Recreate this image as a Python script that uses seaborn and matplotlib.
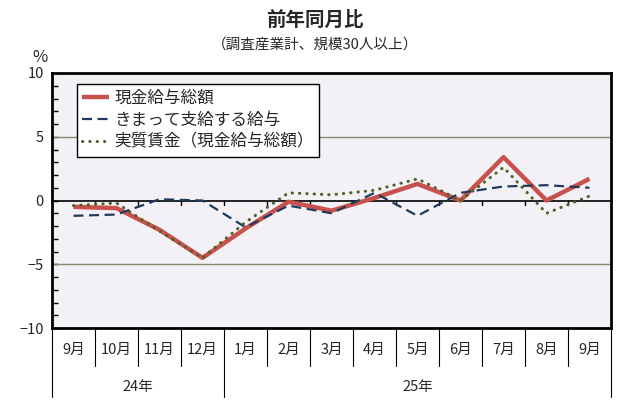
import matplotlib
matplotlib.use("Agg")
import matplotlib.pyplot as plt
import matplotlib.transforms as mtransforms
from matplotlib.ticker import MultipleLocator
import seaborn as sns
import pandas as pd

months = ["9月", "10月", "11月", "12月", "1月", "2月", "3月", "4月", "5月", "6月", "7月", "8月", "9月"]
years = ["24年", "25年"]
year_spans = [(0, 4), (4, 13)]
series_names = ["現金給与総額", "きまって支給する給与", "実質賃金（現金給与総額）"]
cash_total = [-0.5, -0.6, -2.3, -4.5, -2.2, -0.1, -0.8, 0.2, 1.3, 0.0, 3.4, 0.0, 1.7]
regular_pay = [-1.2, -1.1, 0.1, 0.0, -2.1, -0.4, -1.0, 0.6, -1.2, 0.6, 1.1, 1.2, 1.0]
real_wage = [-0.4, -0.2, -2.4, -4.5, -1.7, 0.6, 0.45, 0.8, 1.7, 0.0, 2.6, -1.0, 0.35]

sns.set_theme(style="white")
plt.rcParams["font.family"] = ["Noto Sans CJK JP", "DejaVu Sans"]
plt.rcParams["axes.unicode_minus"] = True

fig = plt.figure(figsize=(6.3, 4.0), dpi=100)
ax = fig.add_axes([52 / 630, 1 - 328 / 400, 559 / 630, 255 / 400])
ax.set_facecolor("#f3f1f5")

idx = list(range(len(months)))
df = pd.DataFrame({
    "idx": idx * 3,
    "value": cash_total + regular_pay + real_wage,
    "series": [series_names[0]] * 13 + [series_names[1]] * 13 + [series_names[2]] * 13,
})

# grid lines
for yv in (5, -5):
    ax.axhline(yv, color="#7f8c6e", lw=1.0, zorder=1)
ax.axhline(0, color="black", lw=1.2, zorder=2)

styles = {
    series_names[0]: dict(color="#c8504d", lw=3.2, ls="-"),
    series_names[1]: dict(color="#1f3a5c", lw=1.6, ls=(0, (4.5, 2.5))),
    series_names[2]: dict(color="#4f6228", lw=2.2, ls=(0, (0.1, 2.3))),
}
for name in series_names:
    st = styles[name]
    sns.lineplot(data=df[df["series"] == name], x="idx", y="value", ax=ax,
                 color=st["color"], linewidth=st["lw"], linestyle=st["ls"],
                 label=name, zorder=3, solid_capstyle="butt",
                 dash_capstyle="round" if name == series_names[2] else "butt")

ax.set_xlim(-0.5, 12.5)
ax.set_ylim(-10, 10)
ax.set_xlabel("")
ax.set_ylabel("")
ax.set_xticks([])
ax.yaxis.set_major_locator(MultipleLocator(5))
ax.yaxis.set_minor_locator(MultipleLocator(1))
ax.tick_params(axis="y", which="both", direction="in", length=4, width=1, color="black",
               left=True, labelsize=10.5, pad=6)
for s in ax.spines.values():
    s.set_color("black")
    s.set_linewidth(2)

# small ticks on zero line at month boundaries
for b in range(1, 13):
    ax.plot([b - 0.5, b - 0.5], [0, -0.35], color="black", lw=1, zorder=2)

# category label table
trans = mtransforms.blended_transform_factory(ax.transData, ax.transAxes)
for i, m in enumerate(months):
    ax.text(i, -0.086, m, transform=trans, ha="center", va="center", fontsize=10.5)
for b in range(1, 13):
    if b == 4:
        continue
    ax.plot([b - 0.5, b - 0.5], [0, -0.15], transform=trans, color="black", lw=0.8, clip_on=False)
for b in (0, 4, 13):
    ax.plot([b - 0.5, b - 0.5], [0, -0.27], transform=trans, color="black", lw=0.8, clip_on=False)
for (a, e), y in zip(year_spans, years):
    ax.text((a + e - 1) / 2, -0.231, y, transform=trans, ha="center", va="center", fontsize=10.5)

leg = ax.legend(loc="upper left", bbox_to_anchor=(0.044, 0.957), frameon=True, fancybox=False,
                edgecolor="black", facecolor="white", framealpha=1, fontsize=12,
                handlelength=1.6, borderpad=0.35, labelspacing=0.3, handletextpad=0.3,
                borderaxespad=0)
leg.get_frame().set_linewidth(1.0)

fig.text(0.5, 1 - 20 / 400, "前年同月比", ha="center", va="center", fontsize=14, fontweight="bold")
fig.text(0.5, 1 - 45 / 400, "（調査産業計、規模30人以上）", ha="center", va="center", fontsize=10.5)
fig.text(40 / 630, 1 - 57 / 400, "%", ha="center", va="center", fontsize=12)

fig.savefig("out.png", dpi=100, facecolor="white")
